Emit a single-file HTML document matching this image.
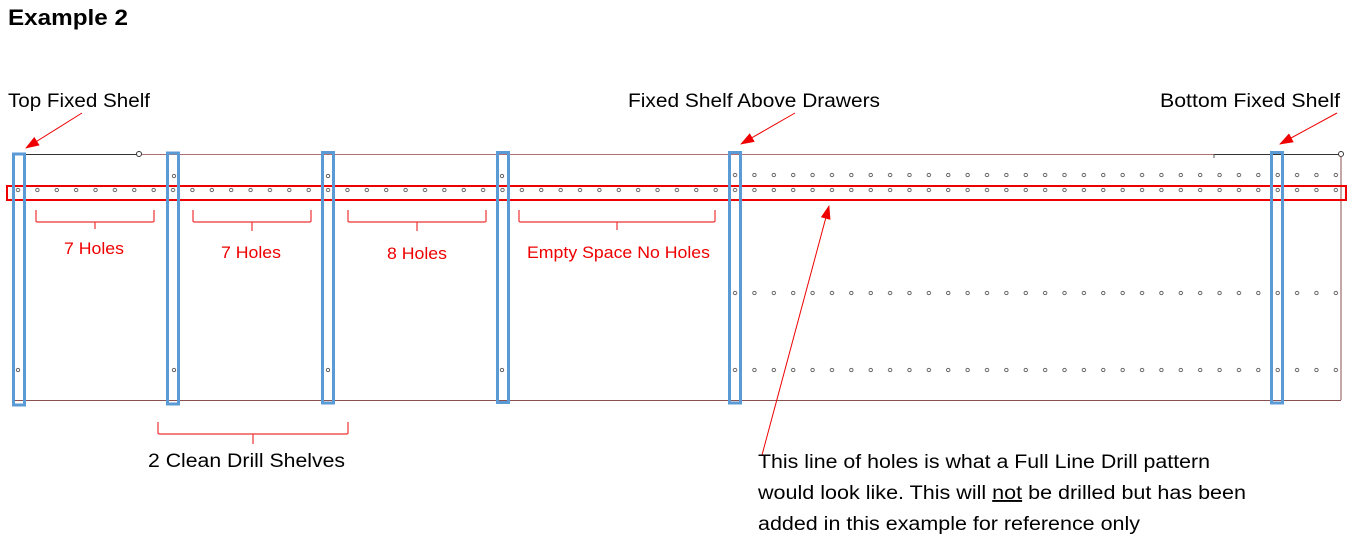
<!DOCTYPE html>
<html><head><style>
html,body{margin:0;padding:0;background:#fff;}
svg{display:block;}
text{font-family:"Liberation Sans",sans-serif;}
</style></head><body>
<svg width="1354" height="542" viewBox="0 0 1354 542" xmlns="http://www.w3.org/2000/svg">
<defs>
<pattern id="h" patternUnits="userSpaceOnUse" x="8.31" y="0" width="19.38" height="6">
<circle cx="9.69" cy="3" r="1.7" fill="none" stroke="#555" stroke-width="0.9"/>
</pattern>
<marker id="ar2" markerWidth="14" markerHeight="10" refX="13" refY="5" orient="auto" markerUnits="userSpaceOnUse"><path d="M0,0 L14,5 L0,10 Z" fill="#e00"/></marker>
</defs>
<text x="8" y="25" font-size="22" font-weight="bold" textLength="120" lengthAdjust="spacingAndGlyphs">Example 2</text>
<text x="8" y="107" font-size="19" textLength="142" lengthAdjust="spacingAndGlyphs">Top Fixed Shelf</text>
<text x="628" y="107" font-size="19" textLength="252" lengthAdjust="spacingAndGlyphs">Fixed Shelf Above Drawers</text>
<text x="1160" y="107" font-size="19" textLength="180" lengthAdjust="spacingAndGlyphs">Bottom Fixed Shelf</text>
<!-- frame -->
<line x1="138" y1="154.5" x2="1214" y2="154.5" stroke="#b07070" stroke-width="1"/>
<line x1="14" y1="154.5" x2="138" y2="154.5" stroke="#333" stroke-width="1"/>
<circle cx="139" cy="154" r="2.5" fill="#fff" stroke="#333"/>
<line x1="1214" y1="154.5" x2="1341" y2="154.5" stroke="#333" stroke-width="1"/>
<line x1="1214" y1="154" x2="1214" y2="158" stroke="#555"/>
<circle cx="1341" cy="154" r="2.5" fill="#fff" stroke="#333"/>
<line x1="1341" y1="156" x2="1341" y2="400" stroke="#8a5050" stroke-width="1"/>
<line x1="13" y1="400.5" x2="1341" y2="400.5" stroke="#8a5050" stroke-width="1"/>
<!-- holes -->
<g transform="translate(0,187)"><rect x="12" y="0" width="1330" height="6" fill="url(#h)"/></g>
<g transform="translate(0,172)"><rect x="730" y="0" width="612" height="6" fill="url(#h)"/></g>
<g transform="translate(0,290)"><rect x="730" y="0" width="612" height="6" fill="url(#h)"/></g>
<g transform="translate(0,367)"><rect x="730" y="0" width="612" height="6" fill="url(#h)"/></g>
<g fill="none" stroke="#555" stroke-width="0.9">
<circle cx="174" cy="176" r="1.7"/><circle cx="328" cy="176" r="1.7"/><circle cx="502" cy="176" r="1.7"/>
<circle cx="18" cy="370" r="1.7"/><circle cx="174" cy="370" r="1.7"/><circle cx="328" cy="370" r="1.7"/><circle cx="502" cy="370" r="1.7"/>
</g>
<!-- red row box -->
<rect x="7" y="186" width="1339" height="14" fill="none" stroke="#e00" stroke-width="2"/>
<!-- blue boxes -->
<g fill="none" stroke="#5b9bd5" stroke-width="3">
<rect x="13.5" y="154" width="11" height="251"/>
<rect x="167.5" y="153" width="11" height="251"/>
<rect x="322.5" y="152.5" width="11" height="250.5"/>
<rect x="497.5" y="152.5" width="11" height="250"/>
<rect x="729.5" y="152.5" width="11" height="250.5"/>
<rect x="1271.5" y="152.5" width="11" height="250.5"/>
</g>
<!-- braces -->
<g fill="none" stroke="#e33" stroke-width="1.2">
<path d="M36,210 V221 Q36,222 38,222 H152 Q154,222 154,221 V210 M95,222 V229"/>
<path d="M193,210 V221 Q193,222 195,222 H309 Q311,222 311,221 V210 M252,222 V231"/>
<path d="M348,210 V221 Q348,222 350,222 H484 Q486,222 486,221 V210 M417,222 V231"/>
<path d="M519,210 V221 Q519,222 521,222 H713 Q715,222 715,221 V210 M617,222 V230"/>
<path d="M158,422 V433 Q158,434 160,434 H346 Q348,434 348,433 V422 M253,434 V444"/>
</g>
<g fill="#e00" font-size="17">
<text x="64" y="254" textLength="60" lengthAdjust="spacingAndGlyphs">7 Holes</text>
<text x="221" y="258" textLength="60" lengthAdjust="spacingAndGlyphs">7 Holes</text>
<text x="387" y="259" textLength="60" lengthAdjust="spacingAndGlyphs">8 Holes</text>
<text x="527" y="258" textLength="183" lengthAdjust="spacingAndGlyphs">Empty Space No Holes</text>
</g>
<text x="148" y="467" font-size="19" textLength="197" lengthAdjust="spacingAndGlyphs">2 Clean Drill Shelves</text>
<!-- arrows -->
<g stroke="#e00" stroke-width="1">
<line x1="82" y1="113" x2="26" y2="148" marker-end="url(#ar2)"/>
<line x1="795" y1="113" x2="741" y2="144" marker-end="url(#ar2)"/>
<line x1="1337" y1="113" x2="1280" y2="144" marker-end="url(#ar2)"/>
<line x1="762" y1="455" x2="829" y2="206" marker-end="url(#ar2)"/>
</g>
<g font-size="19">
<text x="758" y="468" textLength="452" lengthAdjust="spacingAndGlyphs">This line of holes is what a Full Line Drill pattern</text>
<text x="758" y="499" textLength="488" lengthAdjust="spacingAndGlyphs">would look like. This will <tspan text-decoration="underline">not</tspan> be drilled but has been</text>
<text x="758" y="530" textLength="382" lengthAdjust="spacingAndGlyphs">added in this example for reference only</text>
</g>
</svg>
</body></html>
